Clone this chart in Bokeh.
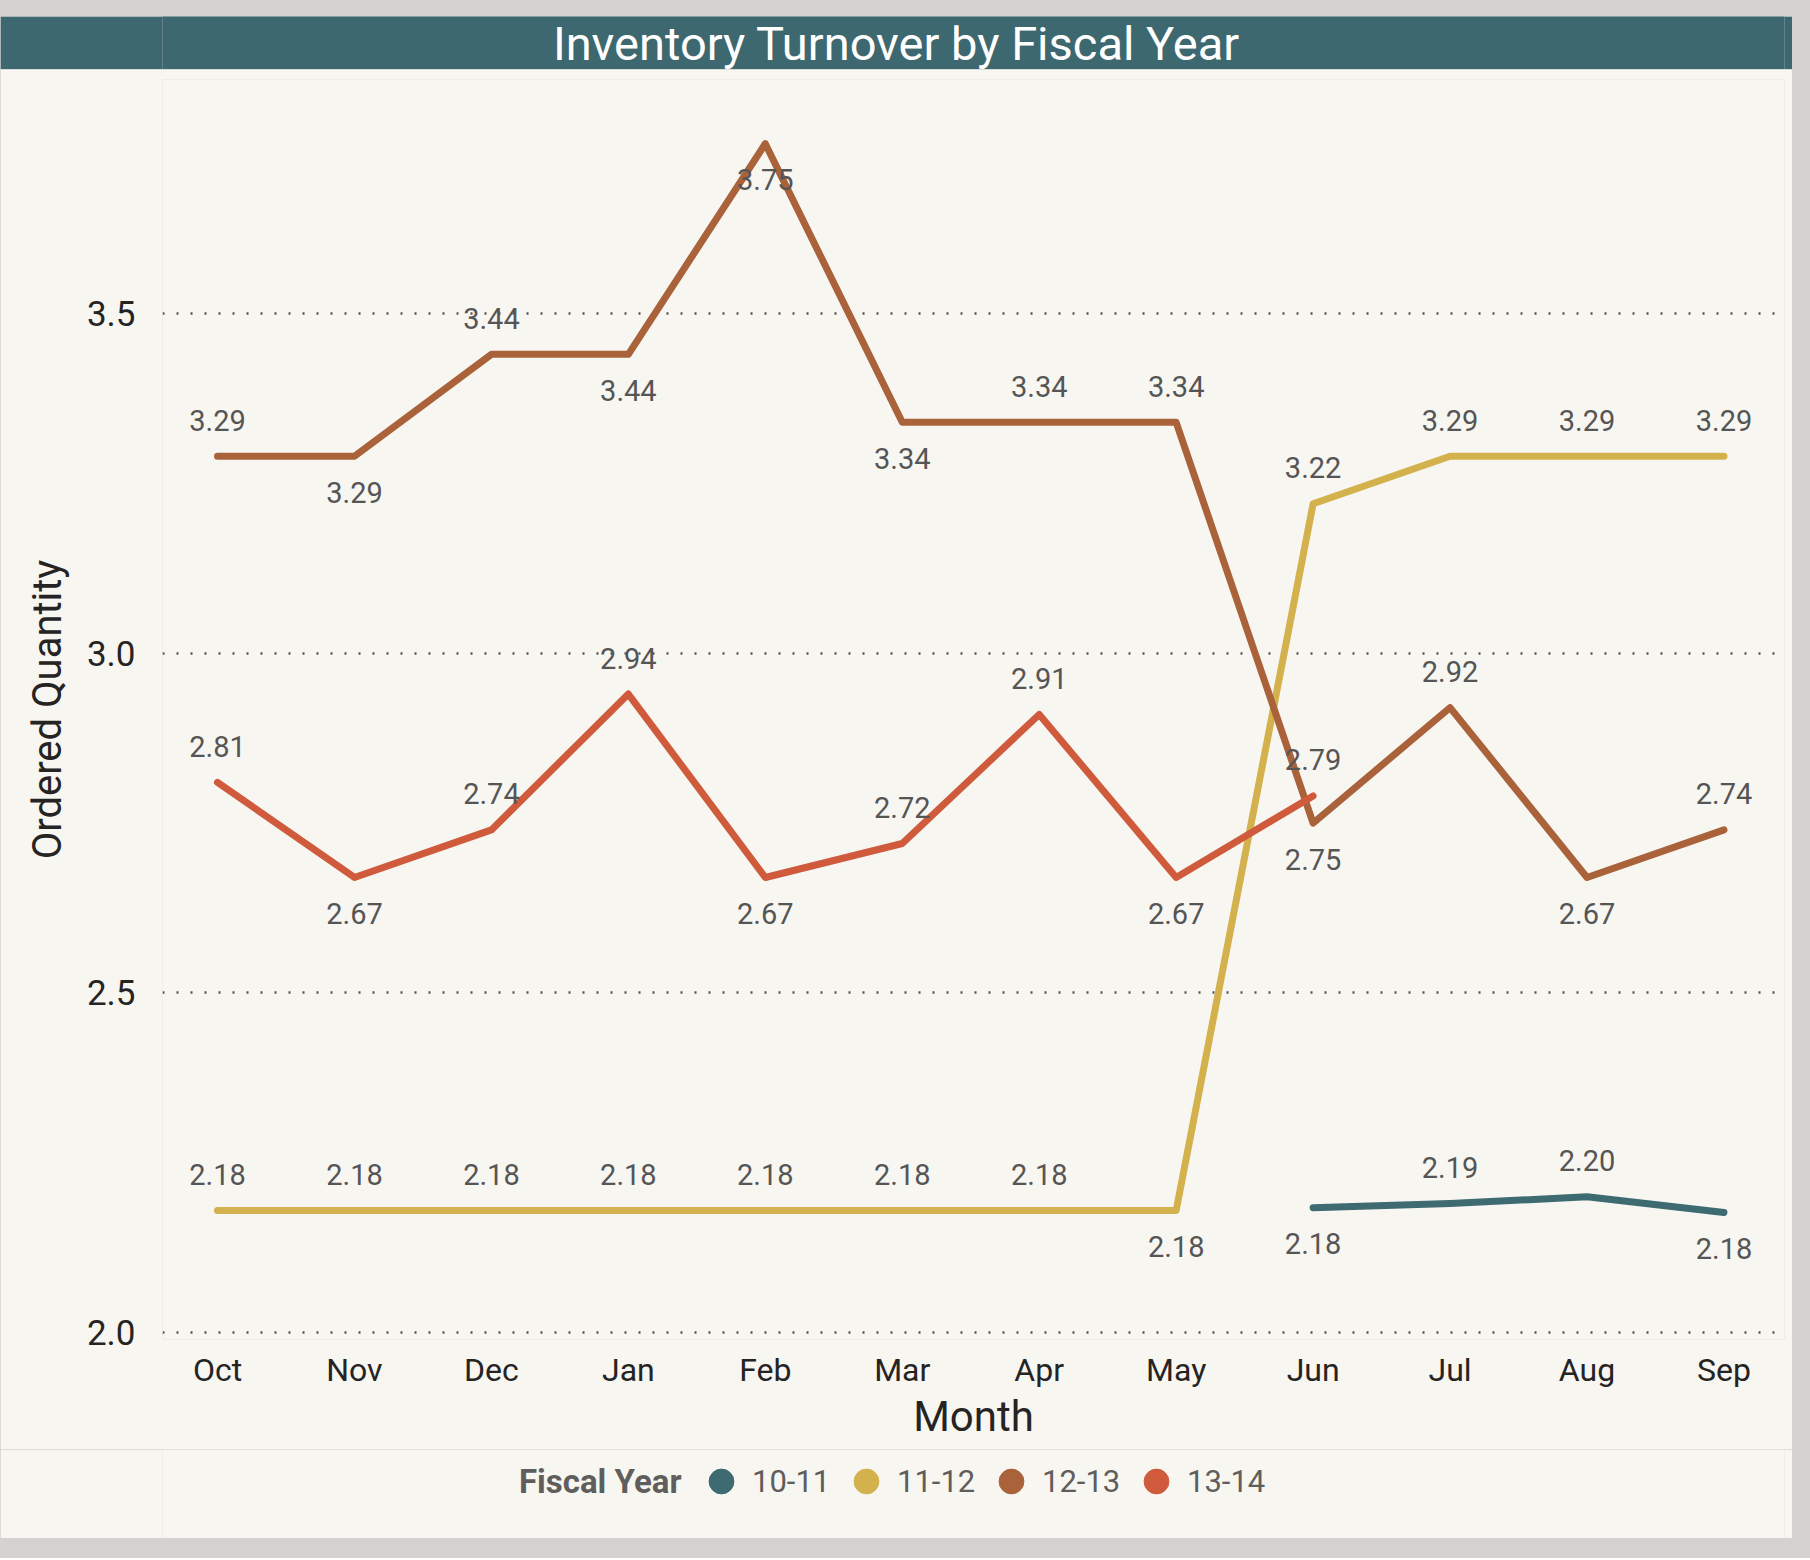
import math
from bokeh.plotting import figure
from bokeh.models import (ColumnDataSource, FixedTicker, Legend, LegendItem, Label,
                          NumeralTickFormatter, Spacer)
from bokeh.layouts import column
from bokeh.embed import file_html
from bokeh.resources import INLINE
from bokeh.core.properties import value

NaN = float("nan")

MONTHS = ["Oct", "Nov", "Dec", "Jan", "Feb", "Mar", "Apr", "May", "Jun", "Jul", "Aug", "Sep"]
YEARS = ["10-11", "11-12", "12-13", "13-14"]

FY_10_11 = [NaN, NaN, NaN, NaN, NaN, NaN, NaN, NaN, 2.184, 2.19, 2.20, 2.177]
FY_11_12 = [2.18, 2.18, 2.18, 2.18, 2.18, 2.18, 2.18, 2.18, 3.22, 3.29, 3.29, 3.29]
FY_12_13 = [3.29, 3.29, 3.44, 3.44, 3.75, 3.34, 3.34, 3.34, 2.75, 2.92, 2.67, 2.74]
FY_13_14 = [2.81, 2.67, 2.74, 2.94, 2.67, 2.72, 2.91, 2.67, 2.79, NaN, NaN, NaN]

# label side per point: 1 = above, -1 = below
SIDE_10_11 = [0, 0, 0, 0, 0, 0, 0, 0, -1, 1, 1, -1]
SIDE_11_12 = [1, 1, 1, 1, 1, 1, 1, -1, 1, 1, 1, 1]
SIDE_12_13 = [1, -1, 1, -1, -1, -1, 1, 1, -1, 1, -1, 1]
SIDE_13_14 = [1, -1, 1, 1, -1, 1, 1, -1, 1, 0, 0, 0]

Y_TICKS = [2.0, 2.5, 3.0, 3.5]

COLORS = ["#3e6a72", "#d3b24e", "#a9623a", "#cf5b3c"]
TEAL = "#3e6870"
CARD = "#f8f6f1"
OUTER = "#d3d2d0"
FONT = "Roboto"

SERIES = [FY_10_11, FY_11_12, FY_12_13, FY_13_14]
SIDES = [SIDE_10_11, SIDE_11_12, SIDE_12_13, SIDE_13_14]

W = 1792
LEFT = 162
RIGHT = 8

# ---- title bar ----
top = figure(width=W, height=53, x_range=(LEFT / W, (W - RIGHT) / W), y_range=(0, 1),
             output_backend="svg", toolbar_location=None,
             x_axis_location=None, y_axis_location=None, min_border=0)
top.min_border_left = LEFT
top.min_border_right = RIGHT
top.border_fill_color = TEAL
top.background_fill_color = TEAL
top.outline_line_color = None
top.grid.visible = False
top.text(x=[0.5], y=[0.5], text=["Inventory Turnover by Fiscal Year"],
         text_font=value(FONT), text_font_size="47px", text_color="white",
         text_align="center", text_baseline="middle", text_line_height=1.0)

# ---- main chart ----
p = figure(width=W, height=1380, x_range=(-0.4016, 11.442), y_range=(1.99, 3.8445),
           output_backend="svg", toolbar_location=None, min_border=0)
p.min_border_left = LEFT
p.min_border_right = RIGHT
p.min_border_top = 10
p.min_border_bottom = 110
p.border_fill_color = CARD
p.background_fill_color = CARD
p.outline_line_color = None

p.xgrid.visible = False
p.ygrid.ticker = FixedTicker(ticks=Y_TICKS)
p.ygrid.grid_line_color = "#555555"
p.ygrid.grid_line_width = 2.5
p.ygrid.grid_line_dash = "2 12"

p.xaxis.ticker = FixedTicker(ticks=list(range(len(MONTHS))))
p.xaxis.major_label_overrides = {i: m for i, m in enumerate(MONTHS)}
p.yaxis.ticker = FixedTicker(ticks=Y_TICKS)
p.yaxis.formatter = NumeralTickFormatter(format="0.0")
for ax in (p.xaxis, p.yaxis):
    ax.axis_line_color = None
    ax.major_tick_line_color = None
    ax.minor_tick_line_color = None
    ax.major_label_text_font = FONT
    ax.major_label_text_color = "#252423"
    ax.axis_label_text_font = FONT
    ax.axis_label_text_color = "#252423"
    ax.axis_label_text_font_style = "normal"
p.xaxis.major_label_text_font_size = "32px"
p.yaxis.major_label_text_font_size = "35px"
p.xaxis.major_label_standoff = 5
p.yaxis.major_label_standoff = 21
p.xaxis.axis_label = "Month"
p.xaxis.axis_label_text_font_size = "42px"
p.xaxis.axis_label_standoff = 0
p.yaxis.axis_label = "Ordered Quantity"
p.yaxis.axis_label_text_font_size = "40px"
p.yaxis.axis_label_standoff = 13

x_idx = list(range(len(MONTHS)))
for name, vals, sides, col in zip(YEARS, SERIES, SIDES, COLORS):
    p.line(x=x_idx, y=vals, line_color=col, line_width=7,
           line_cap="round", line_join="round")
    pts = [(i, v, s) for i, v, s in zip(x_idx, vals, sides) if not math.isnan(v)]
    for sgn, off in ((1, -36), (-1, 36)):
        sel = [(i, v) for i, v, s in pts if s == sgn]
        if not sel:
            continue
        src = ColumnDataSource(dict(x=[a for a, _ in sel], y=[b for _, b in sel],
                                    t=["%.2f" % b for _, b in sel]))
        p.text(x="x", y="y", text="t", source=src, text_font=value(FONT),
               text_font_size="29px", text_color="#555555",
               text_align="center", text_baseline="middle", y_offset=off)

# ---- legend strip ----
lg = figure(width=W, height=89, x_range=(0, 1), y_range=(0, 1),
            output_backend="svg", toolbar_location=None,
            x_axis_location=None, y_axis_location=None, min_border=0)
lg.min_border_left = LEFT
lg.min_border_right = RIGHT
lg.border_fill_color = CARD
lg.background_fill_color = CARD
lg.outline_line_color = None
lg.grid.visible = False

items = []
for name, col in zip(YEARS, COLORS):
    r = lg.scatter(x=[NaN], y=[NaN], marker="circle", size=25,
                   fill_color=col, line_color=col)
    items.append(LegendItem(label=name, renderers=[r]))

legend = Legend(items=items, orientation="horizontal", location=(528, 26),
                glyph_width=62, glyph_height=62, label_height=36, label_width=80,
                label_standoff=0, spacing=3,
                padding=0, margin=0, background_fill_alpha=0, border_line_color=None,
                label_text_font=FONT, label_text_font_size="31px",
                label_text_color="#605e5c", label_text_baseline="middle")
lg.add_layout(legend, "center")
lg.add_layout(Label(x=519, y=57, x_units="screen", y_units="screen",
                    text="Fiscal Year", text_font=FONT, text_font_size="33px",
                    text_font_style="bold", text_color="#605e5c",
                    text_align="right", text_baseline="middle"))

layout = column(Spacer(width=W, height=16), top, p, lg, Spacer(width=W, height=20),
                width=1810, height=1558, styles={"background-color": OUTER})

open("out.html", "w").write(file_html(layout, INLINE))
